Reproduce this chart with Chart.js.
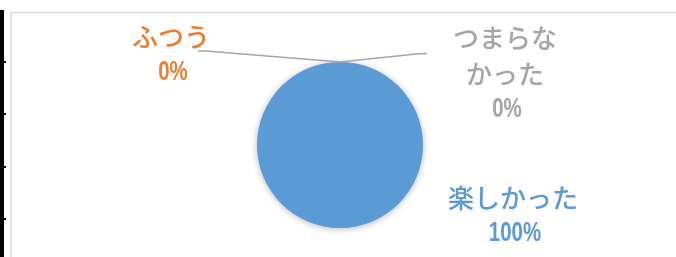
<!DOCTYPE html>
<html>
<head>
<meta charset="utf-8">
<script src="https://cdn.jsdelivr.net/npm/chart.js@4"></script>
<style>
  html,body{margin:0;padding:0;background:#fff;}
  #wrap{position:relative;width:676px;height:257px;}
</style>
</head>
<body>
<div id="wrap"><canvas id="pieChart"></canvas></div>
<script>
// chart data
const categories = ["楽しかった", "ふつう", ["つまらな", "かった"]];
const values = [100, 0, 0];
const colors = ["#5B9BD5", "#ED7D31", "#A5A5A5"];

// label placement around the pie (offsets from pie centre)
const labelPos = [
  { dx: 173, dy: 53 },
  { dx: -169, dy: -108 },
  { dx: 165, dy: -107 }
];

const total = values.reduce((a, b) => a + b, 0);

// frame bits: cut-off axis at the left + light chart border
const framePlugin = {
  id: "frame",
  beforeDraw(chart){
    const ctx = chart.ctx;
    ctx.save();
    ctx.fillStyle = "#fff";
    ctx.fillRect(0, 0, chart.width, chart.height);
    ctx.fillStyle = "#000";
    ctx.fillRect(0, 10, 4, chart.height - 10);
    [61, 113, 166, 218].forEach(y => ctx.fillRect(4, y, 2, 2));
    ctx.strokeStyle = "#d9d9d9";
    ctx.lineWidth = 1.5;
    ctx.beginPath();
    ctx.moveTo(11, chart.height);
    ctx.lineTo(11, 12.5);
    ctx.lineTo(chart.width, 12.5);
    ctx.stroke();
    ctx.restore();
  }
};

const shadowPlugin = {
  id: "pieShadow",
  beforeDatasetsDraw(chart){
    const ctx = chart.ctx;
    ctx.save();
    ctx.shadowColor = "rgba(0,0,0,0.28)";
    ctx.shadowBlur = 7;
    ctx.shadowOffsetX = 0;
    ctx.shadowOffsetY = 1;
  },
  afterDatasetsDraw(chart){
    chart.ctx.restore();
  }
};

const labelPlugin = {
  id: "pieLabels",
  afterDatasetsDraw(chart){
    const ctx = chart.ctx;
    const arcs = chart.getDatasetMeta(0).data;
    const cx = arcs[0].x, cy = arcs[0].y;
    ctx.save();
    // leader lines for zero slices
    ctx.strokeStyle = "#A5A5A5";
    ctx.lineWidth = 1.5;
    arcs.forEach((arc, i) => {
      if (values[i] !== 0) return;
      const mid = (arc.startAngle + arc.endAngle) / 2;
      const ax = arc.x + Math.cos(mid) * arc.outerRadius;
      const ay = arc.y + Math.sin(mid) * arc.outerRadius;
      ctx.beginPath();
      if (labelPos[i].dx < 0) {
        ctx.moveTo(198, 51);
        ctx.lineTo(206, 51);
        ctx.lineTo(ax, ay);
      } else {
        ctx.moveTo(ax, ay);
        ctx.lineTo(416, 54);
        ctx.lineTo(427, 53.5);
      }
      ctx.stroke();
    });
    // text
    ctx.textAlign = "center";
    ctx.textBaseline = "middle";
    arcs.forEach((arc, i) => {
      const lines = [].concat(categories[i]);
      const pct = Math.round(values[i] / total * 100) + "%";
      let x = cx + labelPos[i].dx, y = cy + labelPos[i].dy;
      ctx.fillStyle = colors[i];
      ctx.font = '500 26px "Noto Sans CJK JP"';
      lines.forEach(t => { ctx.fillText(t, x, y); y += 36; });
      // condensed digits
      ctx.save();
      ctx.translate(x + 2, y - 1);
      ctx.scale(0.73, 1);
      ctx.font = 'bold 28px "Liberation Sans"';
      ctx.fillText(pct, 0, 0);
      ctx.restore();
    });
    ctx.restore();
  }
};

new Chart(document.getElementById("pieChart"), {
  type: "pie",
  data: {
    labels: categories,
    datasets: [{
      data: values,
      backgroundColor: colors,
      borderWidth: 0
    }]
  },
  options: {
    responsive: true,
    maintainAspectRatio: false,
    animation: false,
    layout: { padding: { top: 62, bottom: 29, left: 257, right: 253 } },
    plugins: {
      legend: { display: false },
      tooltip: { enabled: false }
    }
  },
  plugins: [framePlugin, shadowPlugin, labelPlugin]
});
</script>
</body>
</html>
